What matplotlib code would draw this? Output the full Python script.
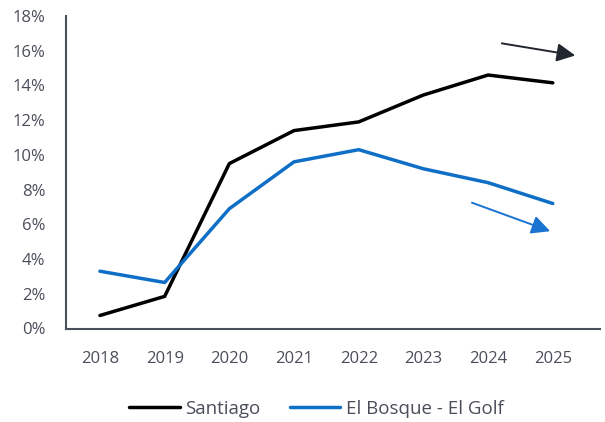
import matplotlib
matplotlib.use("Agg")
import matplotlib.pyplot as plt
from matplotlib.ticker import PercentFormatter

years = ["2018", "2019", "2020", "2021", "2022", "2023", "2024", "2025"]
santiago = [0.75, 1.85, 9.5, 11.4, 11.9, 13.45, 14.6, 14.15]
el_bosque = [3.3, 2.65, 6.9, 9.6, 10.3, 9.2, 8.4, 7.2]

plt.rcParams['font.family'] = ['Open Sans', 'DejaVu Sans']
text_col = '#4a4e5a'
axis_col = '#4a4f5c'

fig = plt.figure(figsize=(6.05, 4.22), dpi=100)
ax = fig.add_axes([66 / 605, (422 - 328.5) / 422, (600 - 66) / 605, (328.5 - 16) / 422])

x = list(range(len(years)))
ax.plot(x, santiago, color='#000000', lw=2.5, label='Santiago', solid_capstyle='round')
ax.plot(x, el_bosque, color='#0f6fc6', lw=2.5, label='El Bosque - El Golf', solid_capstyle='round')

# trend arrows
ax.annotate('', xy=(7.39, 15.7), xytext=(6.17, 16.45),
            arrowprops=dict(arrowstyle='-|>', color='#22262e', lw=1.4, mutation_scale=28))
ax.annotate('', xy=(7.0, 5.55), xytext=(5.71, 7.3),
            arrowprops=dict(arrowstyle='-|>', color='#1a73d0', lw=1.4, mutation_scale=28))

ax.set_xlim(-0.525, 7.73)
ax.set_ylim(0, 18)
ax.set_yticks(range(0, 19, 2))
ax.yaxis.set_major_formatter(PercentFormatter(decimals=0))
ax.set_xticks(x)
ax.set_xticklabels(years)

for s in ['top', 'right']:
    ax.spines[s].set_visible(False)
for s in ['left', 'bottom']:
    ax.spines[s].set_color(axis_col)
    ax.spines[s].set_linewidth(1.5)

ax.tick_params(axis='y', length=0, pad=15, labelsize=12, labelcolor=text_col)
ax.tick_params(axis='x', length=0, pad=16, labelsize=12, labelcolor=text_col)

fig.legend(loc='center', bbox_to_anchor=(316.5 / 605, 1 - 409 / 422), ncol=2, frameon=False,
           fontsize=13.5, labelcolor=text_col, handlelength=2.7, handletextpad=0.3,
           columnspacing=1.55)

fig.savefig('out.png', dpi=100)
